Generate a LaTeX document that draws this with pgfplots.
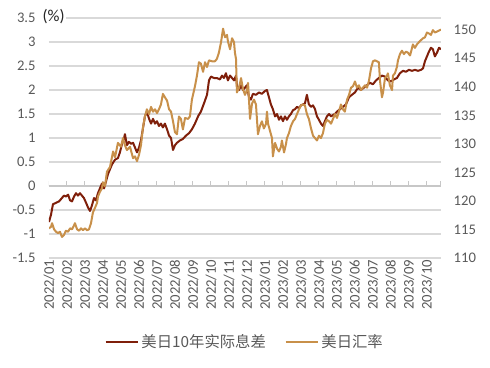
\documentclass[border=0pt]{standalone}
\usepackage{pgfplots}
\usepackage{pgfplotstable}
\pgfplotsset{compat=1.18}
\usepackage{fontspec}
\setmainfont{Carlito}
\newfontfamily\cjk{Noto Sans CJK SC}
\definecolor{spread}{HTML}{7F1F0A}
\definecolor{fx}{HTML}{C8904A}
\definecolor{txt}{HTML}{595959}
\definecolor{grid}{HTML}{D9D9D9}

\pgfplotstableread{
m v
0 -0.75
0.11 -0.6
0.22 -0.38
0.39 -0.35
0.56 -0.32
0.72 -0.25
0.83 -0.2
0.94 -0.22
1.06 -0.18
1.17 -0.3
1.28 -0.32
1.39 -0.22
1.5 -0.15
1.61 -0.2
1.72 -0.15
1.83 -0.2
1.94 -0.25
2.06 -0.35
2.17 -0.45
2.28 -0.52
2.39 -0.4
2.5 -0.25
2.61 -0.3
2.72 -0.15
2.83 -0.05
2.94 0.05
3.06 -0.05
3.17 0.1
3.28 0.25
3.39 0.35
3.5 0.45
3.67 0.55
3.83 0.58
3.94 0.7
4.06 0.88
4.17 1.0
4.22 1.08
4.33 0.85
4.44 0.92
4.56 0.88
4.67 0.9
4.78 0.8
4.89 0.7
5.0 0.8
5.11 0.95
5.22 1.2
5.33 1.45
5.44 1.55
5.56 1.4
5.67 1.3
5.78 1.4
5.89 1.3
6.0 1.35
6.11 1.25
6.22 1.3
6.33 1.22
6.44 1.3
6.56 1.18
6.67 1.05
6.78 1.0
6.89 0.75
7.0 0.85
7.11 0.9
7.28 0.95
7.44 0.98
7.61 1.05
7.78 1.1
7.94 1.18
8.11 1.3
8.28 1.45
8.44 1.55
8.61 1.72
8.78 1.9
8.89 2.2
9.0 2.28
9.17 2.25
9.33 2.25
9.5 2.22
9.61 2.3
9.72 2.25
9.83 2.35
9.94 2.2
10.06 2.3
10.17 2.25
10.28 2.2
10.39 2.3
10.44 2.1
10.56 2.0
10.67 2.1
10.78 2.0
10.89 2.05
11.0 2.1
11.11 1.85
11.22 1.8
11.33 1.92
11.5 1.9
11.67 1.95
11.83 1.92
12.0 1.98
12.11 2.0
12.22 1.85
12.33 1.7
12.44 1.6
12.56 1.45
12.67 1.5
12.78 1.38
12.89 1.45
13.0 1.35
13.11 1.45
13.22 1.38
13.33 1.45
13.44 1.5
13.56 1.58
13.67 1.6
13.78 1.65
13.89 1.62
14.0 1.68
14.11 1.7
14.22 1.72
14.33 1.9
14.44 1.7
14.56 1.65
14.67 1.68
14.78 1.6
14.89 1.45
15.0 1.38
15.11 1.3
15.22 1.25
15.33 1.35
15.44 1.45
15.56 1.5
15.67 1.45
15.78 1.48
15.89 1.5
16.0 1.55
16.17 1.6
16.33 1.65
16.5 1.7
16.67 1.85
16.83 1.9
17.0 1.95
17.17 2.05
17.33 2.0
17.5 2.05
17.67 2.1
17.83 2.15
18.0 2.12
18.17 2.2
18.33 2.25
18.5 2.3
18.67 2.28
18.83 2.2
19.0 2.18
19.17 2.22
19.33 2.25
19.5 2.35
19.67 2.4
19.83 2.38
20.0 2.42
20.17 2.4
20.33 2.42
20.5 2.4
20.67 2.42
20.78 2.45
20.89 2.6
21.0 2.7
21.11 2.8
21.22 2.88
21.33 2.85
21.44 2.7
21.56 2.78
21.67 2.88
21.78 2.85
}\spreadtable

\pgfplotstableread{
m y
0 115.2
0.11 115.45
0.17 116.1
0.28 115.03
0.39 114.6
0.5 114.36
0.61 114.6
0.72 113.69
0.83 114.02
0.94 114.78
1.06 114.6
1.17 115.2
1.28 115.03
1.39 115.7
1.44 116.1
1.56 115.03
1.67 114.78
1.78 115.2
1.89 114.86
2.0 115.2
2.11 114.86
2.22 115.03
2.33 116.04
2.44 117.97
2.56 118.82
2.67 119.66
2.72 120.75
2.83 121.59
2.94 122.18
3.0 123.27
3.11 122.6
3.22 125.12
3.39 125.96
3.56 128.66
3.67 127.65
3.83 130.17
4.0 129.5
4.11 131.01
4.22 129.75
4.33 128.91
4.5 129.5
4.67 127.48
4.78 127.81
4.89 126.97
5.0 128.07
5.11 129.75
5.22 132.86
5.33 134.79
5.44 136.06
5.56 135.22
5.67 136.48
5.78 135.64
5.89 136.06
6.0 135.38
6.11 136.06
6.22 136.9
6.33 138.75
6.44 138.16
6.56 137.57
6.67 136.06
6.78 135.64
6.89 133.95
7.0 132.02
7.11 131.68
7.22 134.79
7.33 134.37
7.44 132.52
7.56 134.54
7.72 134.37
7.83 134.79
7.94 137.74
8.11 140.09
8.22 141.94
8.33 144.3
8.44 144.05
8.56 142.62
8.67 144.3
8.78 143.46
8.89 144.63
9.06 144.47
9.22 144.47
9.33 144.89
9.44 145.98
9.56 147.83
9.67 150.18
9.78 148.67
9.89 149.09
9.94 148.0
10.06 146.57
10.17 148.5
10.28 147.83
10.33 145.98
10.39 144.89
10.44 139.0
10.56 139.84
10.67 141.52
10.78 139.59
10.89 138.58
11.0 139.42
11.06 140.68
11.17 134.37
11.28 137.07
11.39 137.74
11.5 136.9
11.61 131.68
11.72 133.11
11.83 133.95
11.94 132.69
12.06 133.53
12.11 135.64
12.17 133.53
12.28 132.27
12.39 131.01
12.44 127.81
12.56 130.17
12.67 129.16
12.78 128.66
12.89 129.5
12.94 130.59
13.06 128.49
13.17 130.0
13.22 131.01
13.33 131.85
13.44 133.11
13.56 133.95
13.67 134.37
13.78 135.22
13.89 136.06
14.0 136.73
14.11 136.9
14.22 136.73
14.33 135.22
14.44 134.37
14.56 132.69
14.67 131.43
14.78 131.01
14.89 130.59
15.0 131.43
15.11 131.01
15.22 131.85
15.33 133.53
15.44 134.21
15.56 133.95
15.67 133.53
15.78 134.37
15.89 135.22
16.0 134.54
16.11 135.64
16.22 136.9
16.33 136.06
16.44 135.64
16.56 137.74
16.67 138.58
16.78 139.84
16.89 140.09
17.0 140.93
17.11 139.84
17.22 140.26
17.33 139.42
17.44 139.84
17.56 140.26
17.67 139.84
17.78 141.1
17.89 143.2
18.0 144.47
18.11 144.63
18.22 144.47
18.33 144.3
18.39 141.1
18.5 138.16
18.56 139.0
18.67 141.52
18.78 141.94
18.83 142.36
18.94 140.26
19.06 139.42
19.11 141.94
19.22 142.36
19.33 143.46
19.39 144.63
19.5 145.73
19.61 146.32
19.72 145.73
19.83 146.15
19.94 145.98
20.06 145.48
20.22 147.41
20.33 146.82
20.44 147.41
20.61 148.0
20.78 148.5
20.89 148.67
21.0 149.51
21.11 149.34
21.22 149.09
21.33 149.93
21.44 149.51
21.56 149.68
21.67 149.85
21.78 150.02
}\fxtable

\begin{document}
\begin{tikzpicture}
\useasboundingbox (-36.75pt,-82.5pt) rectangle (330.75pt,193.5pt);
\pgfplotsset{
  base/.style={
    width=294pt, height=180pt, scale only axis,
    xmin=0, xmax=21.78,
    axis line style={draw=none},
    tick style={draw=none},
    /pgf/number format/assume math mode=true,
    ticklabel style={font=\fontsize{11}{13}\selectfont, text=txt},
  }
}
\begin{axis}[base, name=main,
  ymin=-1.5, ymax=3.5,
  ytick={-1.5,-1,...,3.5},
  yticklabels={-1.5,-1,-0.5,0,0.5,1,1.5,2,2.5,3,3.5},
  yticklabel style={xshift=-6.5pt},
  ymajorgrids,
  grid style={color=grid, line width=0.9pt},
  xtick={0,...,21},
  xticklabels={2022/01,2022/02,2022/03,2022/04,2022/05,2022/06,2022/07,2022/08,2022/09,2022/10,2022/11,2022/12,2023/01,2023/02,2023/03,2023/04,2023/05,2023/06,2023/07,2023/08,2023/09,2023/10},
  xticklabel style={rotate=90, anchor=east, inner sep=1pt},
]
\draw[color=grid!80!gray, line width=0.9pt] (axis cs:0,0) -- (axis cs:21.78,0);
\pgfplotsinvokeforeach{0,...,21}{\draw[color=grid!80!gray, line width=0.75pt] (axis cs:#1,0) -- ([yshift=3.5pt]axis cs:#1,0);}
\draw[color=grid!80!gray, line width=0.75pt] (axis cs:21.78,0) -- ([yshift=3.5pt]axis cs:21.78,0);
\addplot[spread, line width=1.5pt, line join=round] table[x=m, y=v] {\spreadtable};
\end{axis}
\begin{axis}[base,
  ymin=110, ymax=152.05,
  ytick={110,115,...,150},
  axis y line*=right,
  xtick=\empty,
  yticklabel style={xshift=6pt},
  legend style={at={(0.5,-0.35)}, anchor=center, draw=none, fill=none,
    legend columns=2, font=\cjk\fontsize{11.5}{14}\selectfont, text=txt,
    /tikz/every even column/.append style={column sep=12pt}},
  legend image code/.code={\draw[#1, line width=1.5pt] (0,0) -- (0.85cm,0);},
]
\addlegendimage{spread}
\addlegendentry{美日10年实际息差}
\addplot[fx, line width=1.5pt, line join=round] table[x=m, y=y] {\fxtable};
\addlegendentry{美日汇率}
\end{axis}
\node[anchor=west, fill=white, inner sep=1pt, font=\fontsize{12.5}{14}\selectfont, text=black!85] at ([xshift=-6pt,yshift=1pt]main.north west) {(\%)};
\end{tikzpicture}
\end{document}
